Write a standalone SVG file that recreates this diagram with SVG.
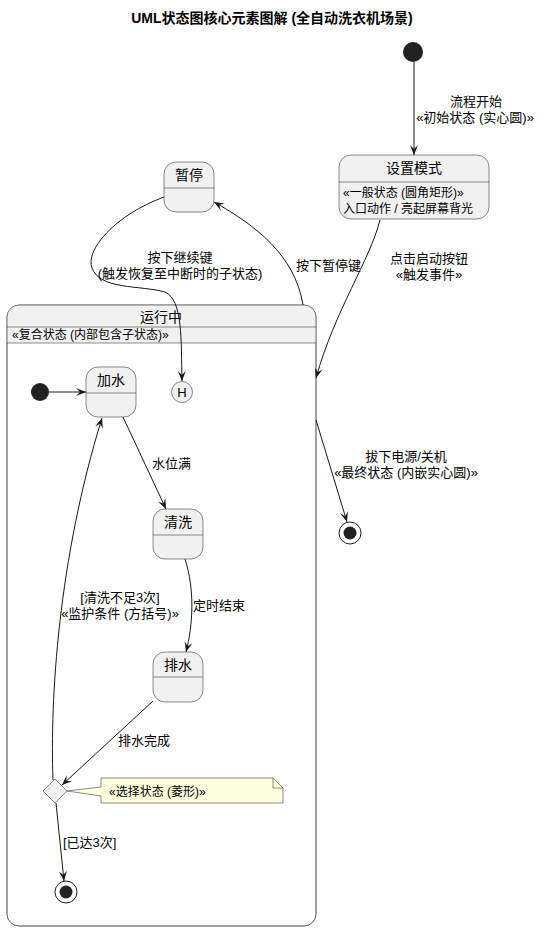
<svg xmlns="http://www.w3.org/2000/svg" width="551" height="939" viewBox="0 0 551 939">
<style>
text{font-family:"Liberation Sans","Noto Sans CJK SC",sans-serif;fill:#000}
.title{font-size:14px;font-weight:bold;text-anchor:middle}
.st{fill:#F1F1F1;stroke:#181818;stroke-width:0.5}
.sep{stroke:#181818;stroke-width:0.5}
.nm{font-size:14px;text-anchor:middle}
.sm{font-size:12px}
.lb{font-size:13px}
.c{text-anchor:middle}
.e{fill:none;stroke:#181818;stroke-width:1}
.dot{fill:#222222}
</style>
<defs>
<marker id="ah" markerUnits="userSpaceOnUse" viewBox="-11 -6 12 12" refX="0" refY="0" markerWidth="12" markerHeight="12" orient="auto">
<path d="M0,0 L-10,-4 L-6,0 L-10,4 Z" fill="#181818"/>
</marker>
</defs>
<rect width="551" height="939" fill="#fff"/>
<text class="title" x="272" y="23">UML状态图核心元素图解 (全自动洗衣机场景)</text>

<g id="start">
<circle class="dot" cx="413" cy="52" r="10"/>
</g>
<g id="setup">
<rect class="st" x="339" y="155" width="150" height="64" rx="12"/>
<line class="sep" x1="339" y1="182" x2="489" y2="182"/>
<text class="nm" x="414" y="173">设置模式</text>
<text class="sm" x="343" y="197">«一般状态 (圆角矩形)»</text>
<text class="sm" x="343" y="213">入口动作 / 亮起屏幕背光</text>
</g>
<g id="pause">
<rect class="st" x="164" y="162" width="50" height="50" rx="12"/>
<line class="sep" x1="164" y1="188" x2="214" y2="188"/>
<text class="nm" x="189" y="180">暂停</text>
</g>
<g id="running">
<rect class="st" x="7" y="305" width="309" height="621" rx="12" style="fill:#fff;stroke:#555"/>
<path d="M7,327 V317 Q7,305 19,305 H304 Q316,305 316,317 V327 Z" fill="#F1F1F1"/>
<rect x="7" y="327" width="309" height="16" fill="#F1F1F1"/>
<rect x="7" y="305" width="309" height="621" rx="12" fill="none" stroke="#555" stroke-width="0.8"/>
<line class="sep" x1="7" y1="327" x2="316" y2="327"/>
<line class="sep" x1="7" y1="343" x2="316" y2="343"/>
<text class="nm" x="161" y="322">运行中</text>
<text class="sm" x="12" y="339">«复合状态 (内部包含子状态)»</text>
</g>
<g id="innerStart">
<circle class="dot" cx="40" cy="392" r="9"/>
</g>
<g id="fill">
<rect class="st" x="86" y="367" width="50" height="50" rx="12"/>
<line class="sep" x1="86" y1="393" x2="136" y2="393"/>
<text class="nm" x="111" y="385">加水</text>
</g>
<g id="history">
<circle cx="182" cy="392" r="10.5" fill="#F1F1F1" stroke="#181818" stroke-width="0.5"/>
<text class="c" x="182" y="397" style="font-size:13px">H</text>
</g>
<g id="wash">
<rect class="st" x="153" y="509" width="50" height="50" rx="12"/>
<line class="sep" x1="153" y1="535" x2="203" y2="535"/>
<text class="nm" x="178" y="527">清洗</text>
</g>
<g id="drain">
<rect class="st" x="153" y="652" width="50" height="50" rx="12"/>
<line class="sep" x1="153" y1="677" x2="203" y2="677"/>
<text class="nm" x="178" y="670">排水</text>
</g>
<g id="choice">
<polygon points="55,779 67,791 55,803 43,791" fill="#F1F1F1" stroke="#181818" stroke-width="0.5"/>
</g>
<g id="note">
<path d="M67,791 L101,787 L101,778 L273,778 L283,788 L283,803 L101,803 L101,796 Z" fill="#FEFFDD" stroke="#181818" stroke-width="0.5"/>
<path d="M273,778 L273,788 L283,788" fill="none" stroke="#181818" stroke-width="0.5"/>
<text class="sm" x="109" y="796">«选择状态 (菱形)»</text>
</g>
<g id="innerEnd">
<circle cx="66" cy="892" r="11" fill="none" stroke="#222" stroke-width="1"/>
<circle class="dot" cx="66" cy="892" r="6.5"/>
</g>
<g id="end">
<circle cx="350" cy="533" r="11" fill="none" stroke="#222" stroke-width="1"/>
<circle class="dot" cx="350" cy="533" r="6.5"/>
</g>

<g id="connectors">
<path class="e" marker-end="url(#ah)" d="M414,62 L414,155"/>
<path class="e" marker-end="url(#ah)" d="M380,220 C370,260 335,310 316,378"/>
<path class="e" marker-end="url(#ah)" d="M303,305 C295,255 255,225 214,202"/>
<path class="e" marker-end="url(#ah)" d="M164,197 C115,215 85,250 92,268 C100,290 140,285 165,292 C183,300 181,340 182,381"/>
<path class="e" marker-end="url(#ah)" d="M316,420 L347,522"/>
<path class="e" marker-end="url(#ah)" d="M49,392 L86,392"/>
<path class="e" marker-end="url(#ah)" d="M123,417 L166,509"/>
<path class="e" marker-end="url(#ah)" d="M185,559 C195,590 193,625 186,652"/>
<path class="e" marker-end="url(#ah)" d="M153,701 L62,785"/>
<path class="e" marker-end="url(#ah)" d="M53,780 C50,700 58,560 102,418"/>
<path class="e" marker-end="url(#ah)" d="M56,803 L64,881"/>
</g>

<g id="labels">
<text class="lb c" x="476" y="106">流程开始</text>
<text class="lb c" x="475" y="122">«初始状态 (实心圆)»</text>
<text class="lb c" x="429" y="263">点击启动按钮</text>
<text class="lb c" x="429" y="279">«触发事件»</text>
<text class="lb" x="296" y="270">按下暂停键</text>
<text class="lb c" x="180" y="262">按下继续键</text>
<text class="lb c" x="180" y="278">(触发恢复至中断时的子状态)</text>
<text class="lb c" x="406" y="461">拔下电源/关机</text>
<text class="lb c" x="406" y="477">«最终状态 (内嵌实心圆)»</text>
<text class="lb" x="152" y="468">水位满</text>
<text class="lb" x="193" y="610">定时结束</text>
<text class="lb c" x="120" y="602">[清洗不足3次]</text>
<text class="lb c" x="120" y="618">«监护条件 (方括号)»</text>
<text class="lb" x="118" y="745">排水完成</text>
<text class="lb" x="63" y="847">[已达3次]</text>
</g>
</svg>
